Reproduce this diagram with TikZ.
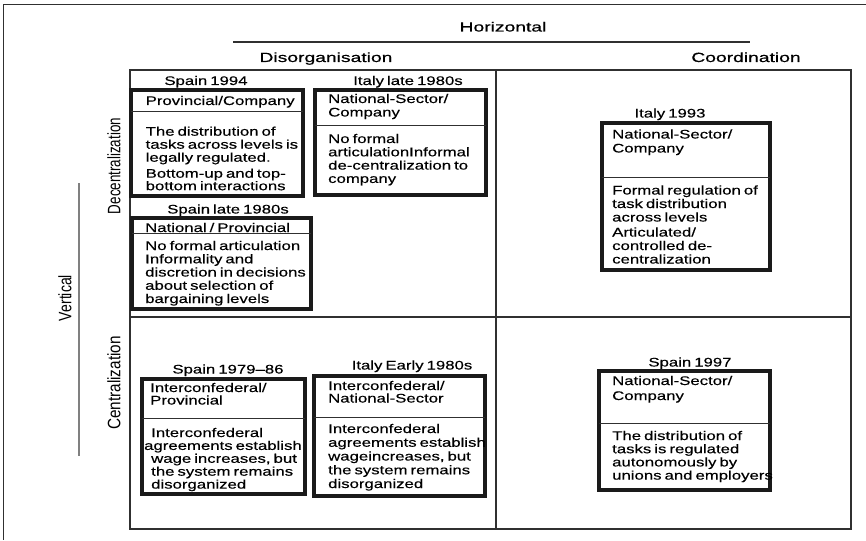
\documentclass[tikz,border=0pt]{standalone}
\usepackage{fontspec}
\setmainfont{Liberation Sans}
\newfontfamily\boxfont{Liberation Sans}[FakeStretch=1.34,WordSpace=0.65,FakeBold=0.3]
\newfontfamily\labfont{Liberation Sans}[FakeStretch=1.45,FakeBold=0.5]
\newfontfamily\rotfontA{Liberation Sans}[FakeStretch=0.745]
\newfontfamily\rotfontB{Liberation Sans}[FakeStretch=0.85]
\newfontfamily\rotfontC{Liberation Sans}[FakeStretch=0.78]
\definecolor{gridc}{HTML}{303030}
\definecolor{boxc}{HTML}{1A1A1A}
\newcommand\BoxLines[5]{%
  \foreach \mytext [count=\i] in {#5} {\node[txt] (#1-\i) at ({#2},{#3+(\i-1)*#4}) {\mytext};}}
\newcommand\BoxAt[6]{%
  \node[box, minimum width={#4-#2}, minimum height={#5-#3}] (#1) at (#2,#3) {};
  \draw[div] (#1.west |- 0,#6) -- (#1.east |- 0,#6);}
\begin{document}
\begin{tikzpicture}[x=1pt,y=-1pt,
  txt/.style={anchor=base west, inner sep=0pt, font=\boxfont\fontsize{12.5}{14}\selectfont},
  ttl/.style={anchor=base, inner sep=0pt, font=\boxfont\fontsize{12.5}{14}\selectfont},
  lab/.style={anchor=base, inner sep=0pt, font=\labfont\fontsize{13.3}{15}\selectfont},
  rot/.style={rotate=90, inner sep=0pt},
  box/.style={draw=boxc, line width=3.5pt, anchor=north west, inner sep=0pt, outer sep=0pt},
  div/.style={draw=gridc, line width=1pt},
  grid/.style={draw=gridc, line width=1.3pt},
  frame/.style={draw=gridc, line width=1pt},
  vline/.style={draw=gray, line width=1.2pt}]
\useasboundingbox (0,0) rectangle (866,540);
\fill[white] (0,0) rectangle (866,540);
% outer frame
\draw[frame] (866,5) -- (3,5) -- (3,540);
% top labels
\node[lab] (hor) at (503,31.5) {Horizontal};
\coordinate (hl1) at (233,42);
\coordinate (hl2) at (750,42);
\draw[grid] (hl1) -- (hl2);
\node[lab] (dis) at (326,62) {Disorganisation};
\node[lab] (coo) at (746,62) {Coordination};
% side labels
\node[rot, font=\rotfontA\fontsize{18}{20}\selectfont] (dec) at (114,166) {Decentralization};
\node[rot, font=\rotfontB\fontsize{18}{20}\selectfont] (cen) at (114,383) {Centralization};
\node[rot, font=\rotfontC\fontsize{18}{20}\selectfont] (ver) at (65,298) {Vertical};
\coordinate (vl1) at (79,183);
\coordinate (vl2) at (79,456);
\draw[vline] (vl1) -- (vl2);
% grid
\draw[grid] (130,70) rectangle (851,529);
\draw[grid] (496,70) -- (496,529);
\draw[grid] (130,317) -- (851,317);
% Box A: Spain 1994
\node[ttl] (tA) at (206,85) {Spain 1994};
\BoxAt{A}{131}{90}{303}{196}{112}
\BoxLines{Ah}{145.5}{105}{13}{Provincial/Company}
\BoxLines{Ab}{145.5}{135.7}{13}{The distribution of, tasks across levels is, legally regulated.}
\BoxLines{Ac}{145.5}{177.7}{12.5}{Bottom-up and top-, bottom interactions}
% Box B: Italy late 1980s
\node[ttl] (tB) at (408,85) {Italy late 1980s};
\BoxAt{B}{315}{90}{486}{195}{126}
\BoxLines{Bh}{328}{103}{13.5}{National-Sector/, Company}
\BoxLines{Bb}{328}{143}{13.3}{No formal, articulationInformal, de-centralization to, company}
% Box C: Spain late 1980s
\node[ttl] (tC) at (228,213.5) {Spain late 1980s};
\BoxAt{C}{132}{218}{311}{309}{233}
\BoxLines{Ch}{145}{232}{13}{National / Provincial}
\BoxLines{Cb}{145}{250}{13.25}{No formal articulation, Informality and, discretion in decisions, about selection of, bargaining levels}
% Box D: Italy 1993
\node[ttl] (tD) at (670,117.5) {Italy 1993};
\BoxAt{D}{602}{123}{770}{270}{177}
\BoxLines{Dh}{612}{138.5}{14}{National-Sector/, Company}
\BoxLines{Db}{612}{194.5}{13.5}{Formal regulation of, task distribution, across levels}
\BoxLines{Dc}{612}{236.5}{13.5}{Articulated/, controlled de-, centralization}
% Box E: Spain 1979-86
\node[ttl] (tE) at (228,373.5) {Spain 1979–86};
\BoxAt{E}{142}{379}{305}{494}{418}
\BoxLines{Eh}{150}{392}{12.5}{Interconfederal/, Provincial}
\BoxLines{Eb}{151}{437}{12.9}{Interconfederal}
\node[txt] (Eb-2) at (144,449.9) {agreements establish};
\BoxLines{Ec}{151}{462.8}{12.9}{{wage increases, but}, the system remains, disorganized}
% Box F: Italy Early 1980s
\node[ttl] (tF) at (412,369.5) {Italy Early 1980s};
\BoxAt{F}{314}{376}{485}{496}{417}
\BoxLines{Fh}{328}{390}{12.5}{Interconfederal/, National-Sector}
\BoxLines{Fb}{328}{433}{13.75}{Interconfederal, agreements establish, {wageincreases, but}, the system remains, disorganized}
% Box G: Spain 1997
\node[ttl] (tG) at (690,366.5) {Spain 1997};
\BoxAt{G}{599}{371}{770}{490}{423}
\BoxLines{Gh}{612}{385}{15}{National-Sector/, Company}
\BoxLines{Gb}{612}{440}{13.2}{The distribution of, tasks is regulated, autonomously by, unions and employers}
\end{tikzpicture}
\end{document}
